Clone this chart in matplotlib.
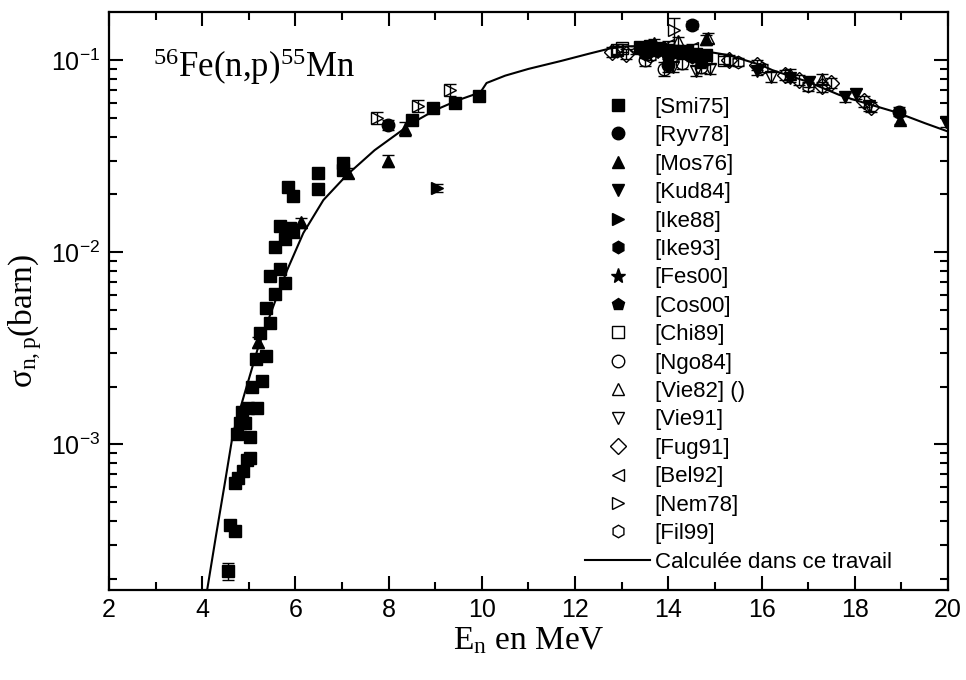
import matplotlib
matplotlib.use("Agg")
import matplotlib.pyplot as plt
import numpy as np

plt.rcParams['font.family'] = ['Liberation Sans', 'DejaVu Sans']
plt.rcParams['mathtext.fontset'] = 'custom'
plt.rcParams['mathtext.rm'] = 'Liberation Serif'
plt.rcParams['mathtext.it'] = 'Liberation Serif:italic'
plt.rcParams['mathtext.bf'] = 'Liberation Serif:bold'

# ---------------- data (E in MeV, sigma in barn, err in % ) ----------------
smi_E = [4.56, 4.60, 4.71, 4.71, 4.77, 4.88, 4.97, 5.03, 4.75, 4.82, 5.03, 4.86, 4.99, 5.18, 4.92,
         5.07, 5.28, 5.16, 5.37, 5.25, 5.46, 5.37, 5.57, 5.78, 5.46, 5.67, 5.57, 5.78, 5.67, 5.88,
         5.95, 5.84, 5.95, 6.48, 6.48, 7.02, 7.02, 8.50, 8.95, 9.42, 9.93,
         13.4, 13.6, 13.8, 14.0, 14.2, 14.4, 14.6, 14.8]
smi_s = [2.2e-4, 3.8e-4, 3.55e-4, 6.3e-4, 6.7e-4, 7.3e-4, 8.3e-4, 8.5e-4, 1.14e-3, 1.29e-3, 1.09e-3,
         1.47e-3, 1.54e-3, 1.54e-3, 1.30e-3, 2.0e-3, 2.15e-3, 2.8e-3, 2.9e-3, 3.8e-3, 4.3e-3, 5.1e-3,
         6.1e-3, 6.9e-3, 7.5e-3, 8.2e-3, 0.0107, 0.0117, 0.0137, 0.0133, 0.0127, 0.0218, 0.0196,
         0.0258, 0.0213, 0.0291, 0.0268, 0.049, 0.056, 0.0597, 0.065,
         0.117, 0.118, 0.115, 0.113, 0.111, 0.112, 0.108, 0.106]
smi_d = [10, 5, 5, 4, 4, 4, 4, 4, 4, 4, 4, 4, 4, 4, 4, 4, 4, 4, 4, 4, 4, 4, 4, 4, 4, 4, 4, 4, 4, 4,
         4, 4, 4, 4, 4, 4, 4, 4, 4, 4, 4, 5, 5, 5, 5, 5, 5, 5, 5]

ryv_E = [7.98, 14.0, 14.5, 18.95]
ryv_s = [0.046, 0.094, 0.152, 0.054]
ryv_d = [6, 8, 5, 5]

mos_E = [5.20, 6.13, 7.13, 7.99, 8.35, 14.8, 18.98]
mos_s = [0.0034, 0.0143, 0.026, 0.030, 0.044, 0.128, 0.049]
mos_d = [6, 6, 6, 7, 8, 6, 5]

kud_E = [13.6, 14.4, 15.9, 16.6, 17.02, 17.8, 18.03, 19.95]
kud_s = [0.115, 0.110, 0.088, 0.081, 0.077, 0.064, 0.067, 0.0475]
kud_d = [5, 5, 5, 5, 6, 5, 6, 6]

ike88_E = [9.03, 13.9, 14.7]
ike88_s = [0.0217, 0.112, 0.108]
ike88_d = [5, 5, 5]

ike93_E = [13.5, 14.5]
ike93_s = [0.108, 0.104]
ike93_d = [5, 5]

fes_E = [13.7, 14.3]
fes_s = [0.110, 0.107]
fes_d = [5, 5]

cos_E = [14.0, 14.7]
cos_s = [0.103, 0.097]
cos_d = [5, 5]

chi_E = [12.9, 13.0, 14.1, 14.7, 15.2]
chi_s = [0.113, 0.116, 0.110, 0.105, 0.100]
chi_d = [5, 5, 5, 5, 5]

ngo_E = [13.5, 13.9, 14.3, 14.7]
ngo_s = [0.100, 0.090, 0.097, 0.092]
ngo_d = [7, 8, 7, 7]

vie82_E = [13.7, 14.2, 14.85, 16.6, 17.3]
vie82_s = [0.122, 0.125, 0.130, 0.085, 0.080]
vie82_d = [6, 6, 6, 6, 6]

vie91_E = [14.1, 14.6, 14.9, 16.2, 18.3]
vie91_s = [0.092, 0.088, 0.090, 0.082, 0.058]
vie91_d = [6, 6, 6, 6, 6]

fug_E = [12.8, 13.1, 15.3, 15.9, 16.5, 16.8, 17.3, 17.5, 18.2, 18.35]
fug_s = [0.110, 0.108, 0.100, 0.094, 0.084, 0.079, 0.073, 0.076, 0.061, 0.057]
fug_d = [6, 6, 6, 6, 6, 6, 6, 6, 6, 6]

bel_E = [13.3, 14.0, 14.5]
bel_s = [0.113, 0.120, 0.115]
bel_d = [5, 5, 5]

nem_E = [7.74, 8.63, 9.31, 14.13]
nem_s = [0.050, 0.058, 0.070, 0.143]
nem_d = [7, 7, 7, 16]

fil_E = [12.9, 13.6, 14.4, 14.8, 15.5, 16.0, 17.0]
fil_s = [0.112, 0.105, 0.108, 0.100, 0.098, 0.091, 0.073]
fil_d = [5, 5, 5, 5, 5, 5, 5]

calc_E = [4.08, 4.3, 4.5, 4.66, 4.88, 5.2, 5.57, 5.82, 6.17, 6.6, 7.1, 7.7, 8.5, 9.0, 9.5, 9.97,
          10.1, 10.5, 11.0, 11.7, 12.3, 12.75, 13.1, 13.5, 14.0, 14.5, 15.0, 15.3, 16.0, 16.23,
          17.0, 17.66, 18.0, 18.88, 19.5, 20.0]
calc_s = [1.6e-4, 3.4e-4, 6.6e-4, 1.14e-3, 1.74e-3, 3.2e-3, 5.6e-3, 8.05e-3, 0.0126, 0.0187,
          0.0252, 0.034, 0.047, 0.055, 0.062, 0.068, 0.076, 0.083, 0.090, 0.099, 0.108, 0.115,
          0.118, 0.118, 0.116, 0.113, 0.109, 0.106, 0.094, 0.0887, 0.077, 0.066, 0.062, 0.0536,
          0.047, 0.0425]

series = [
    ("[Smi75]", smi_E, smi_s, smi_d, 's', True),
    ("[Ryv78]", ryv_E, ryv_s, ryv_d, 'o', True),
    ("[Mos76]", mos_E, mos_s, mos_d, '^', True),
    ("[Kud84]", kud_E, kud_s, kud_d, 'v', True),
    ("[Ike88]", ike88_E, ike88_s, ike88_d, '>', True),
    ("[Ike93]", ike93_E, ike93_s, ike93_d, 'h', True),
    ("[Fes00]", fes_E, fes_s, fes_d, '*', True),
    ("[Cos00]", cos_E, cos_s, cos_d, 'p', True),
    ("[Chi89]", chi_E, chi_s, chi_d, 's', False),
    ("[Ngo84]", ngo_E, ngo_s, ngo_d, 'o', False),
    ("[Vie82] ()", vie82_E, vie82_s, vie82_d, '^', False),
    ("[Vie91]", vie91_E, vie91_s, vie91_d, 'v', False),
    ("[Fug91]", fug_E, fug_s, fug_d, 'D', False),
    ("[Bel92]", bel_E, bel_s, bel_d, '<', False),
    ("[Nem78]", nem_E, nem_s, nem_d, '>', False),
    ("[Fil99]", fil_E, fil_s, fil_d, 'h', False),
]

fig = plt.figure(figsize=(9.66, 6.8), dpi=100)
ax = fig.add_axes([0.1128, 0.1324, 0.8686, 0.85])

handles = []
for label, E, s, d, mk, filled in series:
    E = np.array(E); s = np.array(s); d = np.array(d) / 100.0 * s
    ax.errorbar(E, s, yerr=d, fmt='none', ecolor='black', elinewidth=1.0,
                capsize=4, capthick=1.0, zorder=2)
    ms = 8 if mk == 'D' else (11 if mk == '*' else 9)
    if filled:
        h, = ax.plot(E, s, ls='none', marker=mk, ms=ms, mfc='black', mec='black',
                     mew=1.0, zorder=3, label=label)
    else:
        h, = ax.plot(E, s, ls='none', marker=mk, ms=ms, mfc='none', mec='black',
                     mew=1.0, zorder=3, label=label)
    handles.append(h)

hc, = ax.plot(calc_E, calc_s, color='black', lw=1.5, zorder=4,
              label="Calculée dans ce travail")
handles.append(hc)

ax.set_yscale('log')
ax.set_xlim(2, 20)
ax.set_ylim(1.75e-4, 0.178)
ax.set_xticks([2, 4, 6, 8, 10, 12, 14, 16, 18, 20])
ax.xaxis.set_minor_locator(matplotlib.ticker.MultipleLocator(1))
ax.tick_params(which='both', direction='in', top=True, right=True, width=1.5,
               labelsize=18)
ax.tick_params(axis='y', pad=6)
ax.tick_params(axis='x', pad=6)
ax.tick_params(which='major', length=10)
ax.tick_params(which='minor', length=5.5)
for sp in ax.spines.values():
    sp.set_linewidth(1.6)

ax.set_xlabel(r"E$_{\mathrm{n}}$ en MeV", family='Liberation Serif', fontsize=24,
              labelpad=2)
ax.set_ylabel(r"σ$_{\mathrm{n,p}}$(barn)", family='Liberation Serif', fontsize=24)
ax.yaxis.set_label_coords(-0.077, 0.465)

ax.text(0.053, 0.905, r"$^{56}$Fe(n,p)$^{55}$Mn", transform=ax.transAxes,
        family='Liberation Serif', fontsize=25, ha='left', va='center')

leg = fig.legend(handles=handles, loc='upper left', bbox_to_anchor=(0.6056, 0.8576),
                 frameon=False, fontsize=16, handlelength=2.93, handletextpad=0.2,
                 labelspacing=0.334, borderpad=0, borderaxespad=0, numpoints=1)

fig.savefig("out.png", dpi=100)
